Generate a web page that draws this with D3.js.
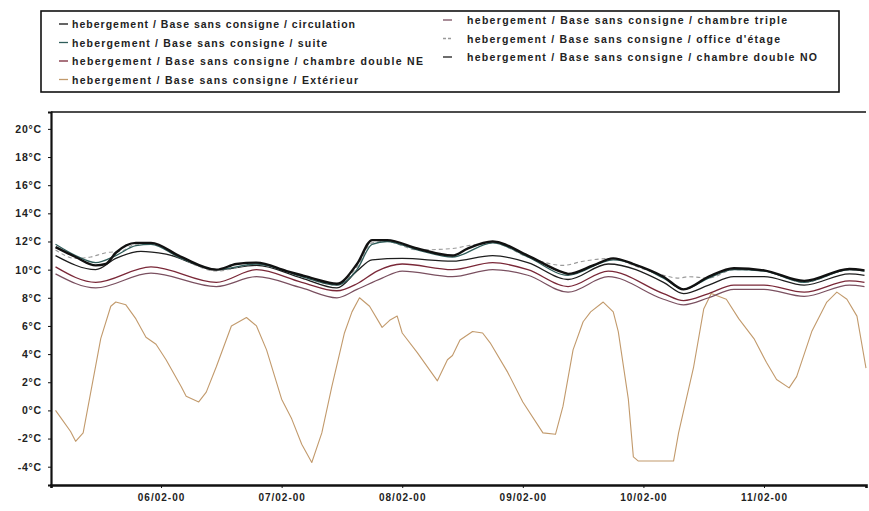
<!DOCTYPE html>
<html>
<head>
<meta charset="utf-8">
<script src="https://cdn.jsdelivr.net/npm/d3@7"></script>
<style>
  body { margin: 0; background: #fff; }
  svg { display: block; }
  .axis path, .axis line { stroke: #111; }
  .axis text { font-family: "Liberation Sans", Arial, sans-serif; font-weight: bold; fill: #222; }
</style>
</head>
<body>
<div class="graph"></div>
<script>
// values, [hours since 06/02 00:00, °C]
var circulation = [[-21,11.6],[-17,10.9],[-13,10.3],[-11,10.4],[-9,11.2],[-5,11.9],[-2,11.9],[4,10.9],[11,10.0],[15,10.4],[19,10.5],[25,9.9],[28,9.6],[30,9.4],[35,9.0],[39,10.4],[42,12.1],[45,12.1],[51,11.5],[58,11.0],[61,11.5],[66,12.0],[73,11.0],[80,9.8],[81,9.7],[86,10.3],[90,10.8],[94,10.4],[100,9.5],[104,8.6],[109,9.5],[114,10.1],[120,9.95],[128,9.2],[137,10.05],[140,9.95]];
var suite = [[-21,11.8],[-17,11.0],[-13,10.5],[-9,11.0],[-5,11.7],[-2,11.8],[4,10.8],[11,10.0],[19,10.4],[28,9.5],[35,8.9],[39,10.0],[42,11.8],[45,12.0],[51,11.4],[58,10.9],[66,11.9],[73,10.9],[81,9.6],[90,10.7],[100,9.4],[104,8.6],[109,9.4],[114,10.0],[120,9.9],[128,9.1],[137,10.0],[140,9.9]];
var doubleNE = [[-21,10.2],[-13,9.1],[-2,10.2],[11,9.1],[19,10.0],[28,9.1],[35,8.5],[39,9.0],[43,9.9],[48,10.4],[58,10.0],[66,10.5],[73,10.0],[81,8.8],[89,9.9],[100,8.3],[104,7.8],[109,8.3],[114,8.9],[120,8.9],[128,8.4],[137,9.2],[140,9.1]];
var exterieur = [[-21,0.0],[-20,-0.5],[-18,-1.5],[-17,-2.2],[-15.5,-1.6],[-12,5.1],[-10,7.4],[-9,7.7],[-7,7.5],[-5,6.5],[-3,5.2],[-1,4.7],[1,3.6],[4,1.7],[5,1.0],[7.5,0.6],[9,1.3],[11,3.1],[14,6.0],[17,6.6],[19,6.0],[21,4.3],[24,0.8],[26,-0.6],[28,-2.4],[30,-3.7],[32,-1.6],[34,1.7],[36.5,5.5],[38,7.0],[39.5,8.0],[41.5,7.4],[44,5.9],[45.5,6.4],[47,6.7],[48,5.5],[51,4.1],[55,2.1],[57,3.6],[58,3.9],[59.5,5.0],[62,5.6],[64,5.5],[65.5,4.8],[69,2.7],[72,0.6],[76,-1.6],[78.5,-1.7],[80,0.3],[82,4.3],[84,6.3],[85.5,7.0],[88,7.7],[90,7.0],[91,5.6],[93,0.8],[94,-3.3],[95,-3.6],[102,-3.6],[103,-1.6],[106,3.1],[108,7.2],[109.5,8.3],[112.5,7.9],[115,6.5],[118,5.1],[120.5,3.4],[122.5,2.2],[125,1.6],[126.5,2.4],[129.5,5.6],[132.5,7.7],[134.5,8.4],[136.5,7.9],[138.5,6.7],[140.3,3.0]];
var triple = [[-21,9.7],[-13,8.7],[-2,9.75],[11,8.8],[19,9.5],[28,8.7],[35,8.0],[39,8.6],[44,9.4],[48,9.9],[58,9.5],[66,10.0],[73,9.6],[81,8.4],[89,9.5],[100,7.9],[104,7.5],[109,8.0],[114,8.6],[120,8.6],[128,8.1],[137,8.9],[140,8.8]];
var office = [[-21,11.4],[-17,10.8],[-14,10.9],[-11,11.2],[-8,11.3],[-5,11.8],[-2,11.8],[4,10.8],[11,9.9],[19,10.4],[28,9.5],[35,8.9],[39,10.2],[42,11.9],[45,12.0],[51,11.4],[58,11.5],[61,11.7],[66,11.9],[73,10.9],[80,10.3],[84,10.6],[90,10.8],[94,10.3],[100,9.6],[103,9.4],[105,9.5],[109,9.4],[114,10.0],[120,9.9],[128,9.1],[137,10.0],[140,9.9]];
var doubleNO = [[-21,11.0],[-13,10.0],[-9,10.8],[-4,11.3],[1,11.1],[11,10.0],[19,10.3],[28,9.4],[35,8.7],[39,9.9],[42,10.7],[48,10.8],[58,10.6],[66,11.0],[73,10.5],[81,9.3],[89,10.4],[100,9.1],[104,8.3],[109,8.9],[114,9.5],[120,9.5],[128,8.9],[137,9.7],[140,9.6]];

var prefix = "hebergement / Base sans consigne / ";
var seriesNames = ["circulation", "suite", "chambre double NE", "Extérieur",
                   "chambre triple", "office d'étage", "chambre double NO"];
var seriesData = [circulation, suite, doubleNE, exterieur, triple, office, doubleNO];
var seriesColors = ["#111111", "#2f5d5a", "#7a2838", "#c29a6c", "#7a5060", "#9a9a9a", "#1e1e1e"];
var seriesWidths = [2.4, 1.3, 1.3, 1.1, 1.2, 1.1, 1.3];
var seriesDash = [null, null, null, null, null, "4,3", null];
var legendWidths = [283, 255, 351, 286, 320, 313, 350];

var yTicks = [-4, -2, 0, 2, 4, 6, 8, 10, 12, 14, 16, 18, 20];
var xTickHours = [0, 24, 48, 72, 96, 120];

var width = 869, height = 511;
var plot = {left: 51, right: 866, top: 112, bottom: 485};

var baseDate = new Date(2000, 1, 6, 0, 0);
function toDate(h) { return new Date(baseDate.getTime() + h * 3600000); }

var xScale = d3.scaleTime()
    .domain([toDate(-21.9), toDate(140.3)])
    .range([plot.left, plot.right]);

var yScale = d3.scaleLinear()
    .domain([-5.3, 21.2])
    .range([plot.bottom, plot.top]);

var svg = d3.select(".graph")
    .append("svg")
    .attr("width", width)
    .attr("height", height);

// lines
var line = d3.line()
    .x(function(d) { return xScale(toDate(d[0])); })
    .y(function(d) { return yScale(d[1]); });

var drawOrder = [3, 4, 2, 6, 5, 1, 0];
drawOrder.forEach(function(i) {
  svg.append("path")
      .datum(seriesData[i])
      .attr("fill", "none")
      .attr("stroke", seriesColors[i])
      .attr("stroke-width", seriesWidths[i])
      .attr("stroke-dasharray", seriesDash[i])
      .attr("stroke-linejoin", "round")
      .attr("d", line.curve(i == 3 ? d3.curveLinear : d3.curveMonotoneX));
});

// frame
svg.append("line")
    .attr("x1", plot.left).attr("x2", plot.right)
    .attr("y1", plot.top).attr("y2", plot.top)
    .attr("stroke", "#111").attr("stroke-width", 1.5);

var yAxis = d3.axisLeft(yScale)
    .tickValues(yTicks)
    .tickSize(3)
    .tickPadding(6)
    .tickFormat(function(d) { return d + "°C"; });

svg.append("g")
    .attr("class", "axis")
    .attr("transform", "translate(" + plot.left + ",0)")
    .call(yAxis)
    .call(function(g) {
      g.select(".domain").attr("stroke-width", 2.2);
      g.selectAll("text").attr("font-size", 10.5).style("letter-spacing", "0.8px");
    });

var xAxis = d3.axisBottom(xScale)
    .tickValues(xTickHours.map(toDate))
    .tickSize(3)
    .tickPadding(6)
    .tickFormat(d3.timeFormat("%d/%m-%H"));

svg.append("g")
    .attr("class", "axis")
    .attr("transform", "translate(0," + plot.bottom + ")")
    .call(xAxis)
    .call(function(g) {
      g.select(".domain").attr("stroke-width", 2.6);
      g.selectAll("text").attr("font-size", 10).style("letter-spacing", "1px");
    });

// legend
var legend = svg.append("g");
legend.append("rect")
    .attr("x", 41).attr("y", 11)
    .attr("width", 798).attr("height", 81)
    .attr("fill", "none")
    .attr("stroke", "#111")
    .attr("stroke-width", 1.6);

seriesNames.forEach(function(name, i) {
  var col = i < 4 ? 0 : 1;
  var row = col == 0 ? i : i - 4;
  var x0 = col == 0 ? 59 : 443;
  var y0 = (col == 0 ? 24 : 20) + row * 18.5;
  var item = legend.append("g").attr("transform", "translate(" + x0 + "," + y0 + ")");
  item.append("line")
      .attr("x1", 0).attr("x2", 9)
      .attr("stroke", seriesColors[i])
      .attr("stroke-width", 1.3)
      .attr("stroke-dasharray", seriesDash[i] ? "3,2" : null);
  item.append("text")
      .attr("x", col == 0 ? 13 : 24)
      .attr("y", 4)
      .attr("font-family", "Liberation Sans, Arial, sans-serif")
      .attr("font-weight", "bold")
      .attr("font-size", 10.5)
      .attr("fill", "#222")
      .attr("textLength", legendWidths[i])
      .attr("lengthAdjust", "spacing")
      .text(prefix + name);
});
</script>
</body>
</html>
